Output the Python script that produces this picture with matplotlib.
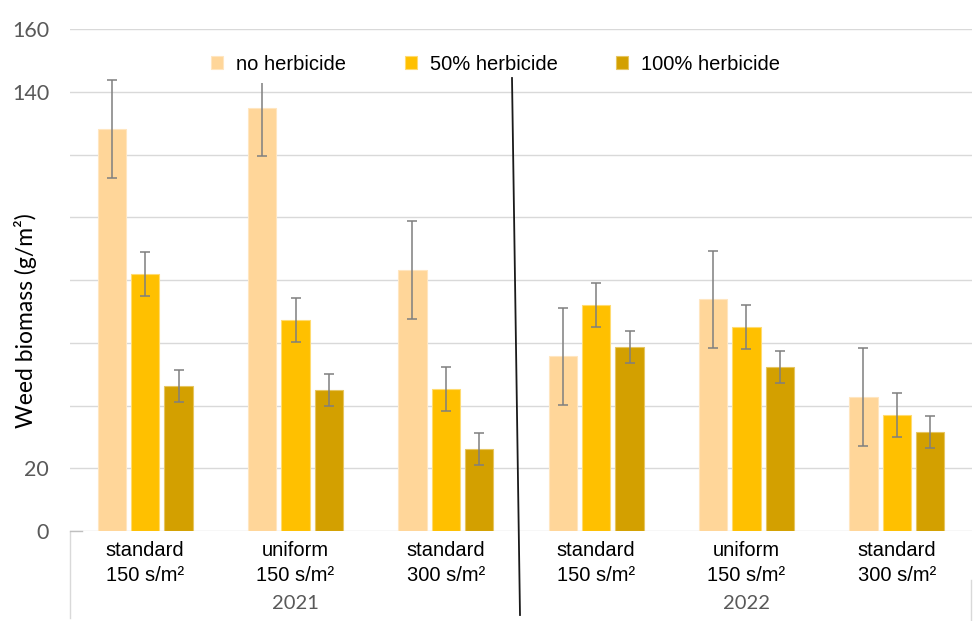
import matplotlib
matplotlib.use('Agg')
import matplotlib.pyplot as plt
import numpy as np
from matplotlib.lines import Line2D

# Weed biomass by sowing pattern / density, two seasons
categories = ['standard\n150 s/m²', 'uniform\n150 s/m²', 'standard\n300 s/m²',
              'standard\n150 s/m²', 'uniform\n150 s/m²', 'standard\n300 s/m²']
years = ['2021', '2022']
series = ['no herbicide', '50% herbicide', '100% herbicide']
colors = ['#FFD699', '#FFC000', '#D3A000']
edges = ['#FFE6C0', '#FFDB70', '#E6C560']

no_herb = [128.1, 134.8, 83.2, 55.7, 73.8, 42.7]
half_herb = [81.9, 67.3, 45.3, 72.0, 65.0, 37.0]
full_herb = [46.2, 44.9, 26.1, 58.6, 52.3, 31.6]
err_no = [15.5, 15.4, 15.6, 15.5, 15.5, 15.6]
err_half = [7.0, 7.1, 7.0, 6.9, 7.0, 7.0]
err_full = [5.1, 5.1, 5.1, 5.1, 5.1, 5.1]

yticks = [0, 20, 40, 60, 80, 100, 120, 140, 160]
ytick_labels = ['0', '20', '', '', '', '', '', '140', '160']

fig = plt.figure(figsize=(9.74, 6.21), dpi=100)
ax = fig.add_axes([70 / 974, 90 / 621, 902 / 974, 502 / 621])

x = np.arange(len(categories))
width = 0.187
step = 0.222
values = [no_herb, half_herb, full_herb]
errors = [err_no, err_half, err_full]
for i, (vals, errs, name) in enumerate(zip(values, errors, series)):
    ax.bar(x + (i - 1) * step, vals, width, color=colors[i], edgecolor=edges[i],
           linewidth=0.8, label=name, zorder=2)
    ax.errorbar(x + (i - 1) * step, vals, yerr=errs, fmt='none', ecolor='#7F7F7F',
                elinewidth=1.1, capsize=3.5, capthick=1.1, zorder=3)

ax.set_xlim(-0.5, len(categories) - 0.5)
ax.set_ylim(0, 160)
ax.set_yticks(yticks)
ax.set_yticklabels(ytick_labels, fontsize=15.5, color='#595959', family='Lato')
ax.tick_params(axis='y', length=0, pad=15)
ax.grid(axis='y', color='#D9D9D9', linewidth=1, zorder=0)
ax.set_axisbelow(True)
for s in ax.spines.values():
    s.set_visible(False)

ax.set_xticks(x)
ax.set_xticklabels(categories, fontsize=14.5, family='Liberation Sans', linespacing=1.45)
ax.tick_params(axis='x', length=0, pad=7)

# year labels under the category rows
for k, yr in enumerate(years):
    ax.text(k * 3 + 1, -0.145, yr, transform=ax.get_xaxis_transform(),
            ha='center', va='center', fontsize=14.5, color='#595959', family='Lato')

ax.set_ylabel('Weed biomass (g/m²)', fontsize=16.5, family='Lato')
ax.yaxis.set_label_coords(-0.037, 0.42)

# dividers of the category axis
fig.add_artist(Line2D([70 / 974, 70 / 974], [1 - 532 / 621, 1 - 618 / 621],
                      color='#D9D9D9', linewidth=1))
fig.add_artist(Line2D([971 / 974, 971 / 974], [1 - 580 / 621, 0],
                      color='#D9D9D9', linewidth=1))
fig.add_artist(Line2D([70 / 974, 82 / 974], [1 - 531 / 621, 1 - 531 / 621],
                      color='#BFBFBF', linewidth=1))

# season separator
fig.add_artist(Line2D([512 / 974, 520 / 974], [1 - 78 / 621, 1 - 615 / 621],
                      color='#1A1A1A', linewidth=1.3))

leg = ax.legend(loc='center left', bbox_to_anchor=(192 / 974, 1 - 64 / 621),
                bbox_transform=fig.transFigure, ncol=3,
                prop={'family': 'Liberation Sans', 'size': 14.5},
                frameon=True, facecolor='white', edgecolor='none', framealpha=1,
                handlelength=0.6, handleheight=0.6, handletextpad=0.65,
                columnspacing=2.9, borderpad=0.45)
leg.set_zorder(5)

fig.savefig('out.png', dpi=100, facecolor='white')
